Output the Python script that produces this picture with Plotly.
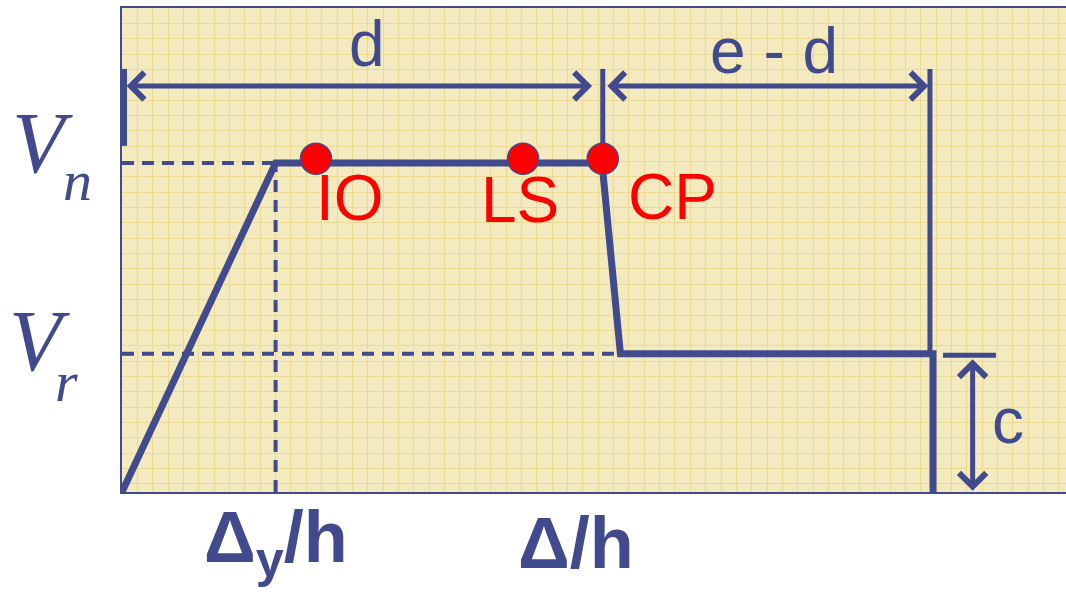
import plotly.graph_objects as go

BLUE = "#414a8c"
RED = "#ff0000"
BG = "#f3eac0"
GRID = "#ecd992"

# backbone curve (drift ratio / shear)
curve_x = [0.0, 1.0, 3.125, 3.245, 5.28, 5.28]
curve_y = [0.0, 1.0, 1.0, 0.42, 0.42, 0.0]
Vn = 1.0
Vr = 0.42
dy_h = 1.0
d_end = 3.245

# performance points
perf_labels = ["IO", "LS", "CP"]
perf_x = [1.263, 2.611, 3.13]
perf_y = [1.013, 1.013, 1.013]
perf_text_x = [1.484, 2.591, 3.581]
perf_text_y = [0.893, 0.887, 0.897]

# dimension markers
dim_y = 1.234
dim_top = 1.286
bar_left_x = 0.013
bar_left_bottom = 1.052
bar_cp_x = 3.13
bar_cp_bottom = 1.01
bar_right_x = 5.26
c_x = 5.538
c_bar_x = [5.345, 5.69]
c_top = 0.408
c_bottom = 0.004

fig = go.Figure()

# dashed reference lines
for xs, ys in [([0, dy_h], [Vn, Vn]), ([0, d_end], [Vr, Vr]), ([dy_h, dy_h], [0, Vn])]:
    fig.add_trace(go.Scatter(x=xs, y=ys, mode="lines",
                             line=dict(color=BLUE, width=4, dash="12px,8px"), hoverinfo="skip"))

# dimension bars
fig.add_trace(go.Scatter(x=[bar_left_x, bar_left_x], y=[bar_left_bottom, dim_top], mode="lines",
                         line=dict(color=BLUE, width=6), hoverinfo="skip"))
fig.add_trace(go.Scatter(x=[bar_cp_x, bar_cp_x], y=[bar_cp_bottom, dim_top], mode="lines",
                         line=dict(color=BLUE, width=5), hoverinfo="skip"))
fig.add_trace(go.Scatter(x=[bar_right_x, bar_right_x], y=[Vr, dim_top], mode="lines",
                         line=dict(color=BLUE, width=5), hoverinfo="skip"))
fig.add_trace(go.Scatter(x=c_bar_x, y=[0.416, 0.416], mode="lines",
                         line=dict(color=BLUE, width=5), hoverinfo="skip"))

# backbone curve
fig.add_trace(go.Scatter(x=curve_x, y=curve_y, mode="lines",
                         line=dict(color=BLUE, width=7), hoverinfo="skip"))

# performance points
fig.add_trace(go.Scatter(x=perf_x, y=perf_y, mode="markers",
                         marker=dict(color=RED, size=31, line=dict(color=BLUE, width=1.5)),
                         hoverinfo="skip"))

# double-headed arrows
def dbl_arrow(x0, y0, x1, y1):
    fig.add_annotation(x=x1, y=y1, ax=x0, ay=y0, xref="x", yref="y", axref="x", ayref="y",
                       text="", showarrow=True, arrowhead=4, startarrowhead=4,
                       arrowside="end+start", arrowwidth=5, arrowsize=1.05, startarrowsize=1.05,
                       arrowcolor=BLUE, standoff=0, startstandoff=0)

dbl_arrow(0.02, dim_y, 3.06, dim_y)
dbl_arrow(3.15, dim_y, 5.25, dim_y)
dbl_arrow(c_x, c_top, c_x, c_bottom)

SANS = "Liberation Sans, Arial, sans-serif"
SERIF = "Liberation Serif, Times New Roman, serif"

def label(x, y, text, size, color, family, xref="x", yref="y"):
    fig.add_annotation(x=x, y=y, xref=xref, yref=yref, text=text, showarrow=False,
                       xanchor="center", yanchor="middle",
                       font=dict(family=family, size=size, color=color))

# dimension labels
label(1.595, 1.362, "d", 64, BLUE, SANS)
label(4.245, 1.34, "e - d", 64, BLUE, SANS)
label(5.768, 0.215, "c", 64, BLUE, SANS)

# performance labels
for lab, tx, ty in zip(perf_labels, perf_text_x, perf_text_y):
    label(tx, ty, lab, 64, RED, SANS)

# y labels
label(-0.0837, 1.061, "<i>V</i>", 86, BLUE, SERIF, xref="paper")
label(-0.0470, 0.948, "<i>n</i>", 58, BLUE, SERIF, xref="paper")
label(-0.0869, 0.459, "<i>V</i>", 86, BLUE, SERIF, xref="paper")
label(-0.0590, 0.335, "<i>r</i>", 58, BLUE, SERIF, xref="paper")

# x labels
label(1.0, -0.105, "<b>Δ<sub>y</sub>/h</b>", 72, BLUE, SANS, yref="paper")
label(2.955, -0.105, "<b>Δ/h</b>", 72, BLUE, SANS, yref="paper")

fig.update_layout(
    width=1066, height=594,
    margin=dict(l=122, r=0, t=8, b=102),
    paper_bgcolor="white", plot_bgcolor=BG,
    showlegend=False,
    xaxis=dict(range=[0, 944 / 153.6], dtick=0.1, tick0=0, showgrid=True, gridcolor=GRID,
               gridwidth=1, zeroline=False, showticklabels=False, ticks="",
               showline=True, linecolor=BLUE, linewidth=2, mirror=True, fixedrange=True),
    yaxis=dict(range=[0, 484 / 329], dtick=15.35 / 329, tick0=484 / 329, showgrid=True,
               gridcolor=GRID, gridwidth=1, zeroline=False, showticklabels=False, ticks="",
               showline=True, linecolor=BLUE, linewidth=2, mirror=False, fixedrange=True),
)

fig.write_html(
    "out.html",
    config={"displayModeBar": False},
    post_script="document.body.style.margin='0';document.body.style.overflow='hidden';",
)
